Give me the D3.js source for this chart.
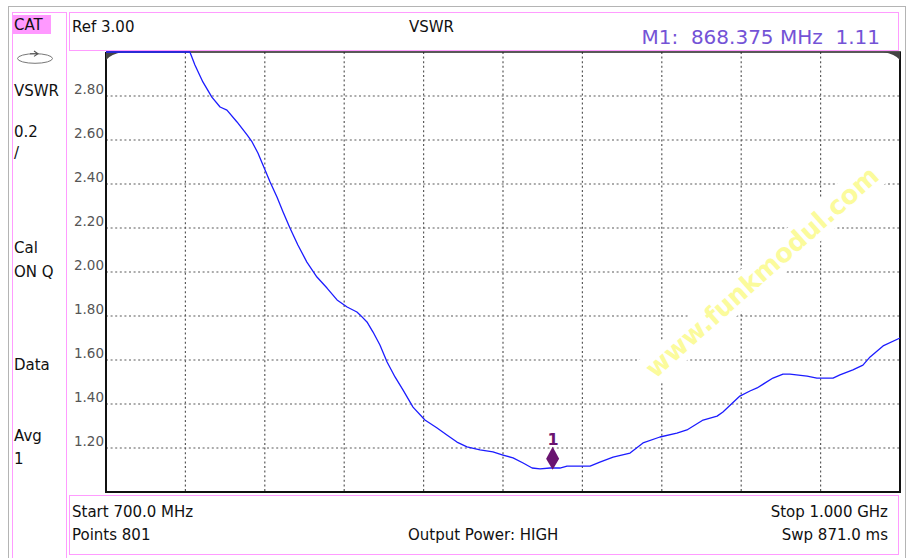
<!DOCTYPE html>
<html><head><meta charset="utf-8">
<script src="https://cdn.jsdelivr.net/npm/d3@7"></script>
<style>
html,body{margin:0;padding:0;background:#fff;}
svg{display:block;}
text{font-family:"DejaVu Sans",sans-serif;}
</style></head>
<body>
<svg id="c" width="914" height="558"></svg>
<script>
// ---- data ----
const freqMHz = [700,731.7,733.6,736.6,740.0,743.1,745.7,749.5,753.3,755.2,757.4,760.1,762.0,764.6,766.9,769.5,772.5,775.9,779.7,783.5,787.3,791.1,794.8,796.0,798.6,800.9,803.5,806.2,809.2,812.2,816.0,820.5,825.1,828.8,832.6,836.4,841.3,846.2,850.0,853.8,857.6,861.0,864.0,867.8,871.5,874.2,882.9,886.6,891.6,898.0,902.9,909.3,915.7,919.5,925.6,930.9,933.1,939.5,943.3,946.0,952.0,955.8,958.4,964.9,968.6,974.7,977.3,982.2,986.0,988.7,993.6,1000.0];
const vswr = [3.00,3.00,2.941,2.864,2.795,2.750,2.736,2.682,2.623,2.591,2.541,2.464,2.409,2.341,2.273,2.200,2.123,2.045,1.977,1.927,1.873,1.841,1.818,1.805,1.773,1.727,1.668,1.591,1.523,1.464,1.386,1.327,1.291,1.259,1.227,1.205,1.191,1.182,1.168,1.155,1.132,1.109,1.105,1.109,1.109,1.118,1.118,1.136,1.159,1.177,1.223,1.250,1.268,1.282,1.327,1.345,1.364,1.436,1.459,1.473,1.518,1.536,1.536,1.527,1.518,1.518,1.532,1.555,1.577,1.614,1.664,1.700];
const yTicks = [1.2,1.4,1.6,1.8,2.0,2.2,2.4,2.6,2.8];
const xGrid = [730,760,790,820,850,880,910,940,970];
const marker = {freq:868.375, value:1.11, label:"1"};
const leftPanel = [["VSWR",96],["0.2",137],["/",158],["Cal",253],["ON Q",277],["Data",370],["Avg",441],["1",464]];
const headerText = {ref:"Ref 3.00", title:"VSWR", marker:"M1:  868.375 MHz  1.11"};
const footerText = {start:"Start 700.0 MHz", points:"Points 801", power:"Output Power: HIGH", stop:"Stop 1.000 GHz", swp:"Swp 871.0 ms"};
const watermark = "www.funkmodul.com";

// ---- layout ----
const svg = d3.select("#c");
const L=106, R=900, T=52, B=492;
const x = d3.scaleLinear().domain([700,1000]).range([L,R]);
const y = d3.scaleLinear().domain([1,3]).range([B,T]).clamp(true);
const pink = "#ff9cff";

// outer frame
svg.append("rect").attr("x",8.5).attr("y",6.5).attr("width",897).attr("height",600)
  .attr("fill","none").attr("stroke","#b4b4b4");
// left panel
svg.append("rect").attr("x",12.5).attr("y",12.5).attr("width",54).attr("height",600)
  .attr("fill","none").attr("stroke",pink);
svg.append("rect").attr("x",13).attr("y",15).attr("width",38).attr("height",19).attr("fill","#ff99ff");
svg.append("text").attr("x",14).attr("y",30).attr("font-size",15).attr("fill","#111").text("CAT");
// icon
svg.append("ellipse").attr("cx",35).attr("cy",58.5).attr("rx",17.5).attr("ry",4.8)
  .attr("fill","none").attr("stroke","#777").attr("stroke-width",1);
svg.append("path").attr("d","M30,53.7 L38,53.7 M34,51 L38,53.7 L34,56.4").attr("fill","none").attr("stroke","#555").attr("stroke-width",1.1);
leftPanel.forEach(([t,yy])=>{
  svg.append("text").attr("x",14).attr("y",yy).attr("font-size",15).attr("fill","#111").text(t);
});

// header
svg.append("rect").attr("x",69.5).attr("y",12.5).attr("width",829).attr("height",38)
  .attr("fill","none").attr("stroke",pink);
svg.append("text").attr("x",72).attr("y",31.5).attr("font-size",15).attr("fill","#111").text(headerText.ref);
svg.append("text").attr("x",409).attr("y",31.5).attr("font-size",15).attr("fill","#111").text(headerText.title);
svg.append("text").attr("x",880).attr("y",43.5).attr("text-anchor","end").attr("font-size",20)
  .attr("fill","#7453d6").attr("xml:space","preserve").style("white-space","pre").text(headerText.marker);

// footer
svg.append("rect").attr("x",69.5).attr("y",495.5).attr("width",829).attr("height",59)
  .attr("fill","none").attr("stroke",pink);
const ft = (t,xx,yy,anchor)=>svg.append("text").attr("x",xx).attr("y",yy).attr("font-size",15)
  .attr("fill","#111").attr("text-anchor",anchor||"start").text(t);
ft(footerText.start,72,517);
ft(footerText.points,72,540);
ft(footerText.power,408,540);
ft(footerText.stop,888,517,"end");
ft(footerText.swp,888,540,"end");

// grid
const g = svg.append("g");
g.selectAll("line.h").data(yTicks).join("line").attr("class","h")
  .attr("x1",L).attr("x2",R).attr("y1",d=>y(d)).attr("y2",d=>y(d))
  .attr("stroke","#5a5a5a").attr("stroke-width",1.2).attr("stroke-dasharray","2,2.6");
g.selectAll("line.v").data(xGrid).join("line").attr("class","v")
  .attr("x1",d=>x(d)).attr("x2",d=>x(d)).attr("y1",T).attr("y2",B)
  .attr("stroke","#5a5a5a").attr("stroke-width",1.2).attr("stroke-dasharray","2,2.6");

// watermark mask + text
const wm = svg.append("g").attr("transform","translate(762,272) rotate(-41.7)");
wm.append("rect").attr("x",-160).attr("y",-16).attr("width",320).attr("height",32).attr("fill","#fff");
wm.append("text").attr("x",0).attr("y",0).attr("text-anchor","middle").attr("dominant-baseline","central")
  .attr("font-size",26).attr("font-weight","bold").attr("fill","#fbfb9c")
  .attr("textLength",302).attr("lengthAdjust","spacingAndGlyphs").text(watermark);

// y axis labels
const ya = d3.axisLeft(y).tickValues(yTicks).tickSize(0).tickPadding(2).tickFormat(d3.format(".2f"));
const yg = svg.append("g").attr("transform",`translate(${L},0)`).call(ya);
yg.select(".domain").remove();
yg.selectAll("text").attr("font-family","DejaVu Sans").attr("font-size",13.5).attr("fill","#555").attr("dy","-0.2em");

// frame
svg.append("line").attr("x1",L).attr("x2",R+1).attr("y1",T).attr("y2",T).attr("stroke","#222").attr("stroke-width",1.5);
svg.append("line").attr("x1",L).attr("x2",L).attr("y1",T).attr("y2",B+1).attr("stroke","#111").attr("stroke-width",2);
svg.append("line").attr("x1",L).attr("x2",R+1).attr("y1",B).attr("y2",B).attr("stroke","#111").attr("stroke-width",2);
svg.append("line").attr("x1",R).attr("x2",R).attr("y1",T).attr("y2",B+1).attr("stroke","#111").attr("stroke-width",2);
// corner wedges
svg.append("path").attr("d",`M${L},${T} L${L+17},${T} Q${L+5},${T+2} ${L},${T+8} Z`).attr("fill","#444");
svg.append("path").attr("d",`M${R},${T} L${R-17},${T} Q${R-5},${T+2} ${R},${T+8} Z`).attr("fill","#444");

// trace
const pts = freqMHz.map((f,i)=>[f,vswr[i]]);
svg.append("path").datum(pts).attr("fill","none").attr("stroke","#1c1cff").attr("stroke-width",1.3)
  .attr("stroke-linejoin","round")
  .attr("d",d3.line().x(d=>x(d[0])).y(d=>y(d[1])));

// marker
const mx = x(marker.freq)+1, my = y(marker.value);
svg.append("path").attr("d",`M${mx},${my+2} L${mx-6.5},${my-9} L${mx},${my-21} L${mx+6.5},${my-9} Z`).attr("fill","#6a1470");
svg.append("text").attr("x",mx+0.5).attr("y",my-22.5).attr("text-anchor","middle")
  .attr("font-family","DejaVu Serif").attr("font-weight","bold").attr("font-size",16).attr("fill","#6a1470").text(marker.label);
</script>
</body></html>
